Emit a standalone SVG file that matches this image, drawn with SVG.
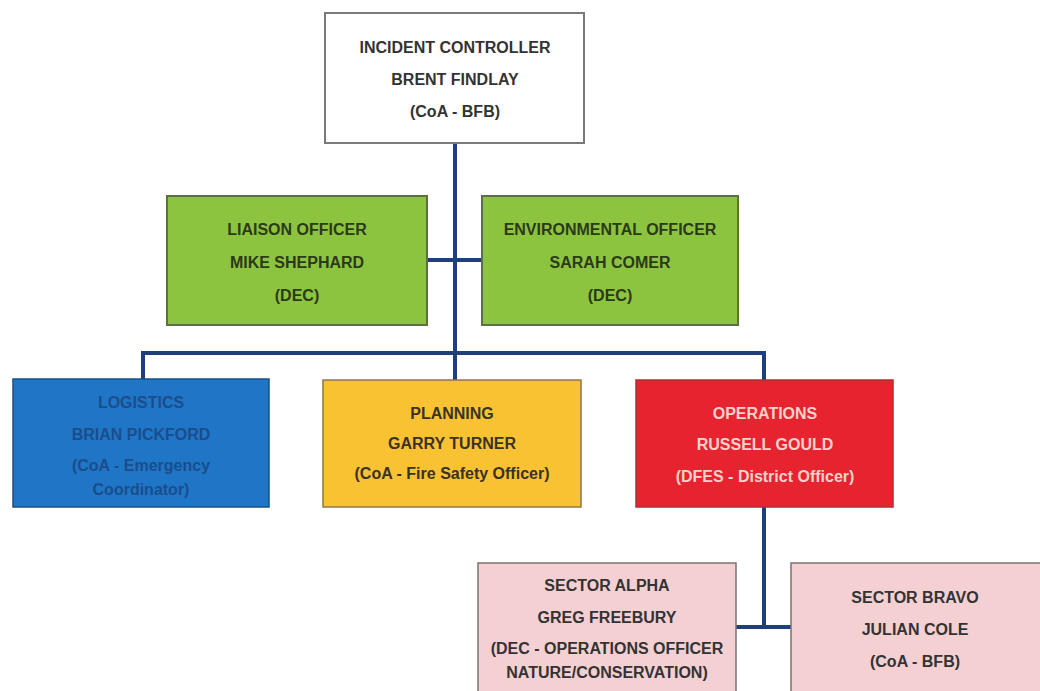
<svg xmlns="http://www.w3.org/2000/svg" width="1040" height="691" viewBox="0 0 1040 691">
<style>
text{font-family:"Liberation Sans",Arial,sans-serif;font-weight:bold;font-size:16px;text-anchor:middle}
.white rect{fill:#ffffff;stroke:#7a7a7a;stroke-width:2}
.white text{fill:#333333}
.green rect{fill:#8dc43f;stroke:#5d7237;stroke-width:2}
.green text{fill:#2b3a18}
.blue rect{fill:#1f76c6;stroke:#1a4f86;stroke-width:1.5}
.blue text{fill:#1b4d8c}
.yellow rect{fill:#f9c233;stroke:#8a7a50;stroke-width:1.5}
.yellow text{fill:#3a3224}
.red rect{fill:#e6232e;stroke:#b52b34;stroke-width:1.5}
.red text{fill:#f6d3cc}
.pink rect{fill:#f5d0d3;stroke:#7d7272;stroke-width:1.5}
.pink text{fill:#333333}
.conn{fill:none;stroke:#1f3f7c;stroke-width:4}
</style>
<rect width="1040" height="691" fill="#ffffff"/>
<g id="connectors" class="conn">
<path d="M455 143 V380"/>
<path d="M427 260 H482"/>
<path d="M143 379 V353 H764 V380"/>
<path d="M764 507 V627"/>
<path d="M736 627 H791"/>
</g>
<g id="incident-controller" class="white">
<rect x="325" y="13" width="259" height="130"/>
<text x="455" y="53">INCIDENT CONTROLLER</text>
<text x="455" y="85">BRENT FINDLAY</text>
<text x="455" y="117">(CoA - BFB)</text>
</g>
<g id="liaison-officer" class="green">
<rect x="167" y="196" width="260" height="129"/>
<text x="297" y="235">LIAISON OFFICER</text>
<text x="297" y="268">MIKE SHEPHARD</text>
<text x="297" y="301">(DEC)</text>
</g>
<g id="environmental-officer" class="green">
<rect x="482" y="196" width="256" height="129"/>
<text x="610" y="235">ENVIRONMENTAL OFFICER</text>
<text x="610" y="268">SARAH COMER</text>
<text x="610" y="301">(DEC)</text>
</g>
<g id="logistics" class="blue">
<rect x="13" y="379" width="256" height="128"/>
<text x="141" y="408">LOGISTICS</text>
<text x="141" y="440">BRIAN PICKFORD</text>
<text x="141" y="471">(CoA - Emergency</text>
<text x="141" y="495">Coordinator)</text>
</g>
<g id="planning" class="yellow">
<rect x="323" y="380" width="258" height="127"/>
<text x="452" y="419">PLANNING</text>
<text x="452" y="449">GARRY TURNER</text>
<text x="452" y="479">(CoA - Fire Safety Officer)</text>
</g>
<g id="operations" class="red">
<rect x="636" y="380" width="257" height="127"/>
<text x="765" y="419">OPERATIONS</text>
<text x="765" y="450">RUSSELL GOULD</text>
<text x="765" y="482">(DFES - District Officer)</text>
</g>
<g id="sector-alpha" class="pink">
<rect x="478" y="563" width="258" height="140"/>
<text x="607" y="591">SECTOR ALPHA</text>
<text x="607" y="623">GREG FREEBURY</text>
<text x="607" y="654">(DEC - OPERATIONS OFFICER</text>
<text x="607" y="678">NATURE/CONSERVATION)</text>
</g>
<g id="sector-bravo" class="pink">
<rect x="791" y="563" width="260" height="140"/>
<text x="915" y="603">SECTOR BRAVO</text>
<text x="915" y="635">JULIAN COLE</text>
<text x="915" y="667">(CoA - BFB)</text>
</g>
</svg>
